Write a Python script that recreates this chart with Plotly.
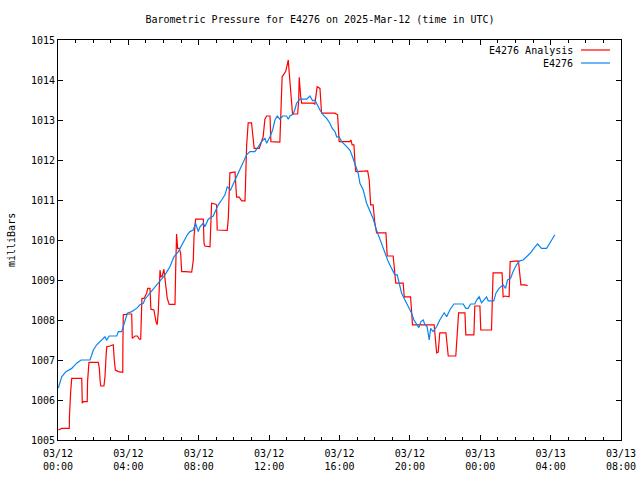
import plotly.graph_objects as go
import pandas as pd

# Hours since 2025-03-12 00:00 UTC, and pressure (mbar)
obs_hours = [0.02, 0.21, 0.45, 0.78, 1.06, 1.31, 1.82, 2.01, 2.20, 2.48, 2.67, 2.77, 2.91, 3.34, 3.43, 3.62,
             3.75, 3.94, 4.19, 4.47, 4.66, 4.85, 4.94, 5.23, 5.41, 5.70, 6.08, 6.36, 6.59, 6.84, 7.03, 7.22,
             7.35, 7.50, 7.69, 7.82, 7.97, 8.07, 8.26, 8.35, 8.54, 8.82, 8.92, 9.11, 9.30, 9.49, 9.62, 9.81,
             9.96, 10.15, 10.34, 10.53, 10.72, 10.91, 11.19, 11.38, 11.57, 11.76, 11.86, 12.05, 12.20, 12.33,
             12.46, 12.61, 12.77, 12.99, 13.09, 13.18, 13.37, 13.47, 13.56, 13.75, 14.13, 14.32, 14.47, 14.60,
             14.70, 14.89, 15.07, 15.27, 15.45, 15.59, 15.74, 15.84, 15.98, 16.12, 16.31, 16.59, 16.74, 16.88,
             17.06, 17.16, 17.35, 17.54, 17.73, 17.91, 18.07, 18.20, 18.39, 18.58, 18.77, 18.96, 19.15, 19.28,
             19.39, 19.53, 19.72, 19.90, 20.10, 20.23, 20.38, 20.51, 20.63, 20.76, 20.85, 20.98, 21.10, 21.18,
             21.32, 21.52, 21.70, 21.95, 22.09, 22.27, 22.50, 23.03, 23.18, 23.31, 23.45, 23.69, 23.79, 23.94,
             24.07, 24.20, 24.36, 24.45, 24.77, 24.89, 25.07, 25.30, 25.44, 25.55, 25.72, 25.87, 26.06, 26.25,
             26.44, 26.63, 26.86, 27.10, 27.26, 27.48, 27.77, 27.95, 28.24]
obs_press = [1006.30, 1006.58, 1006.71, 1006.79, 1006.92, 1007.00, 1007.00, 1007.25, 1007.38, 1007.50, 1007.58,
             1007.50, 1007.60, 1007.60, 1007.71, 1007.71, 1007.92, 1008.17, 1008.21, 1008.29, 1008.38, 1008.42,
             1008.52, 1008.67, 1008.79, 1008.92, 1009.13, 1009.33, 1009.58, 1009.71, 1009.88, 1010.04, 1010.13,
             1010.21, 1010.25, 1010.42, 1010.21, 1010.33, 1010.42, 1010.33, 1010.52, 1010.60, 1010.71, 1010.88,
             1011.00, 1011.13, 1011.33, 1011.25, 1011.40, 1011.58, 1011.73, 1011.92, 1012.13, 1012.21, 1012.21,
             1012.33, 1012.46, 1012.54, 1012.42, 1012.58, 1012.75, 1013.00, 1013.10, 1013.02, 1013.10, 1013.10,
             1013.02, 1013.10, 1013.15, 1013.27, 1013.42, 1013.52, 1013.52, 1013.60, 1013.48, 1013.50, 1013.40,
             1013.25, 1013.13, 1013.04, 1012.92, 1012.79, 1012.71, 1012.58, 1012.58, 1012.46, 1012.38, 1012.25,
             1012.08, 1011.92, 1011.67, 1011.42, 1011.25, 1010.92, 1010.71, 1010.54, 1010.29, 1010.13, 1009.92,
             1009.67, 1009.46, 1009.29, 1009.13, 1009.13, 1008.92, 1008.67, 1008.50, 1008.33, 1008.17, 1008.00,
             1007.88, 1007.81, 1007.96, 1008.00, 1007.89, 1007.83, 1007.50, 1007.79, 1007.71, 1007.83, 1008.00,
             1008.18, 1008.08, 1008.25, 1008.40, 1008.40, 1008.29, 1008.29, 1008.40, 1008.40, 1008.50, 1008.58,
             1008.43, 1008.50, 1008.58, 1008.48, 1008.48, 1008.67, 1008.79, 1008.88, 1008.79, 1009.00, 1009.04,
             1009.21, 1009.38, 1009.48, 1009.50, 1009.58, 1009.68, 1009.82, 1009.90, 1009.79, 1009.79, 1009.92,
             1010.13]

ana_hours = [0.02, 0.21, 0.64, 0.65, 0.72, 0.78, 1.35, 1.38, 1.44, 1.66, 1.68, 1.76, 2.29, 2.35, 2.39, 2.43,
             2.61, 2.67, 2.73, 2.77, 2.95, 3.14, 3.20, 3.26, 3.43, 3.68, 3.69, 3.71, 3.99, 4.19, 4.22, 4.38,
             4.51, 4.62, 4.70, 4.72, 4.77, 4.89, 5.04, 5.10, 5.23, 5.28, 5.45, 5.57, 5.64, 5.70, 5.74, 5.80,
             5.85, 5.93, 6.02, 6.12, 6.21, 6.32, 6.65, 6.69, 6.74, 6.80, 6.89, 6.97, 7.03, 7.22, 7.60, 7.69,
             7.73, 7.82, 8.26, 8.30, 8.35, 8.64, 8.69, 8.73, 8.92, 9.01, 9.05, 9.62, 9.68, 9.73, 9.77, 10.06,
             10.10, 10.15, 10.30, 10.44, 10.63, 10.67, 10.72, 10.81, 11.00, 11.06, 11.15, 11.44, 11.66, 11.76,
             11.86, 12.05, 12.10, 12.61, 12.67, 12.74, 12.94, 12.99, 13.09, 13.13, 13.18, 13.28, 13.33, 13.62,
             13.68, 13.71, 13.75, 13.79, 13.85, 14.51, 14.60, 14.70, 14.73, 14.89, 14.93, 14.98, 15.55, 15.74,
             15.89, 15.93, 15.98, 16.59, 16.65, 16.72, 16.82, 16.88, 16.93, 17.60, 17.69, 17.77, 17.91, 18.01,
             18.11, 18.64, 18.71, 19.05, 19.11, 19.20, 19.62, 19.68, 20.04, 20.10, 20.15, 21.38, 21.46, 21.52,
             21.61, 21.70, 22.05, 22.12, 22.18, 22.61, 22.69, 22.77, 23.13, 23.18, 23.64, 23.69, 23.98, 24.03,
             24.64, 24.70, 24.73, 25.24, 25.30, 25.40, 25.64, 25.70, 26.15, 26.19, 26.25, 26.31, 26.53, 26.69]
ana_press = [1005.25, 1005.29, 1005.29, 1005.58, 1006.21, 1006.54, 1006.54, 1005.92, 1005.96, 1005.96, 1006.46,
             1006.94, 1006.94, 1006.79, 1006.50, 1006.35, 1006.35, 1006.58, 1007.08, 1007.33, 1007.35, 1007.38,
             1007.00, 1006.75, 1006.71, 1006.69, 1007.42, 1008.13, 1008.15, 1008.15, 1007.54, 1007.60, 1007.60,
             1007.52, 1007.52, 1008.00, 1008.54, 1008.54, 1008.67, 1008.79, 1008.79, 1008.27, 1008.25, 1007.96,
             1007.88, 1008.21, 1008.79, 1009.25, 1009.08, 1009.10, 1009.27, 1008.83, 1008.54, 1008.39, 1008.39,
             1009.29, 1010.15, 1009.79, 1009.79, 1009.67, 1009.21, 1009.21, 1009.20, 1009.50, 1010.08, 1010.52,
             1010.52, 1009.92, 1009.85, 1009.83, 1010.38, 1010.92, 1010.90, 1010.88, 1010.25, 1010.24, 1010.54,
             1011.21, 1011.68, 1011.70, 1011.42, 1011.07, 1011.07, 1010.98, 1010.98, 1011.50, 1012.35, 1012.93,
             1012.93, 1012.67, 1012.29, 1012.29, 1012.58, 1013.02, 1013.10, 1013.10, 1012.46, 1012.45, 1013.08,
             1014.08, 1014.21, 1014.33, 1014.50, 1014.25, 1014.00, 1013.50, 1013.15, 1013.15, 1013.50, 1014.07,
             1013.63, 1013.60, 1013.42, 1013.42, 1013.40, 1013.75, 1013.83, 1013.79, 1013.50, 1013.17, 1013.17,
             1013.17, 1013.13, 1012.75, 1012.46, 1012.46, 1012.50, 1012.38, 1012.38, 1011.92, 1011.71, 1011.73,
             1011.50, 1010.88, 1010.88, 1010.42, 1010.18, 1010.18, 1009.60, 1009.60, 1009.25, 1008.92, 1008.92,
             1008.58, 1008.58, 1008.25, 1007.88, 1007.88, 1007.38, 1007.18, 1007.20, 1007.68, 1007.68, 1007.38,
             1007.10, 1007.10, 1007.75, 1008.18, 1008.18, 1007.63, 1007.63, 1008.35, 1008.35, 1007.75, 1007.75,
             1008.83, 1009.18, 1009.18, 1008.58, 1008.60, 1008.58, 1009.46, 1009.48, 1009.40, 1009.00, 1008.88,
             1008.88, 1008.86]

series_names = ["E4276 Analysis", "E4276"]
title_text = "Barometric Pressure for E4276 on 2025-Mar-12 (time in UTC)"
y_label = "milliBars"

base = pd.Timestamp("2025-03-12 00:00")
obs_t = base + pd.to_timedelta(obs_hours, unit="h")
ana_t = base + pd.to_timedelta(ana_hours, unit="h")

RED = "#ff0000"
BLUE = "#0a84f0"
FONT = "DejaVu Sans Mono"

fig = go.Figure()
fig.add_trace(go.Scatter(x=ana_t, y=ana_press, mode="lines", name=series_names[0],
                         line=dict(color=RED, width=1.2), showlegend=False, hoverinfo="skip"))
fig.add_trace(go.Scatter(x=obs_t, y=obs_press, mode="lines", name=series_names[1],
                         line=dict(color=BLUE, width=1.2), showlegend=False, hoverinfo="skip"))

tickvals = [base + pd.Timedelta(hours=h) for h in range(0, 33, 4)]
ticktext = [t.strftime("%m/%d<br>%H:%M") for t in tickvals]

fig.update_layout(
    template="none",
    width=640, height=480, autosize=False,
    margin=dict(l=58, r=19, t=40, b=40, autoexpand=False),
    paper_bgcolor="white", plot_bgcolor="white",
    font=dict(family=FONT, size=10, color="black"),
    title=dict(text=title_text, x=0.5, xanchor="center", y=1 - 19 / 480, yanchor="middle",
               font=dict(family=FONT, size=10, color="black")),
    xaxis=dict(type="date", range=[base, base + pd.Timedelta(hours=32)], automargin=False,
               tickvals=tickvals, ticktext=ticktext,
               ticks="inside", ticklen=5, tickcolor="black", tickwidth=1,
               showline=True, linecolor="black", linewidth=1, mirror="ticks",
               showgrid=False, zeroline=False, ticklabelstandoff=4,
               minor=dict(dtick=3600000, ticks="inside", ticklen=3, tickcolor="black", showgrid=False),
               tickfont=dict(family=FONT, size=10)),
    yaxis=dict(range=[1005, 1015], dtick=1, tickformat="d", automargin=False,
               ticks="inside", ticklen=5, tickcolor="black", tickwidth=1,
               showline=True, linecolor="black", linewidth=1, mirror="ticks",
               showgrid=False, zeroline=False,
               tickfont=dict(family=FONT, size=10)),
)

# y-axis label
fig.add_annotation(text=y_label, xref="paper", yref="paper", x=(11 - 58) / 563, y=0.5,
                   xanchor="center", yanchor="middle", textangle=-90, showarrow=False,
                   font=dict(family=FONT, size=10, color="black"))

# gnuplot-style key (text left, line sample right)
key_rows = [(series_names[0], RED, 50), (series_names[1], BLUE, 63)]
for name, col, ypx in key_rows:
    fig.add_annotation(text=name, xref="paper", yref="paper", x=(575 - 58) / 563, y=(440 - ypx) / 400,
                       xanchor="right", yanchor="middle", showarrow=False,
                       font=dict(family=FONT, size=10, color="black"))
    fig.add_shape(type="line", xref="paper", yref="paper",
                  x0=(581 - 58) / 563, x1=(610 - 58) / 563,
                  y0=(440 - ypx) / 400, y1=(440 - ypx) / 400,
                  line=dict(color=col, width=1.2))

fig.write_html("out.html", config={"displayModeBar": False, "responsive": False},
               post_script="document.body.style.margin='0';")
